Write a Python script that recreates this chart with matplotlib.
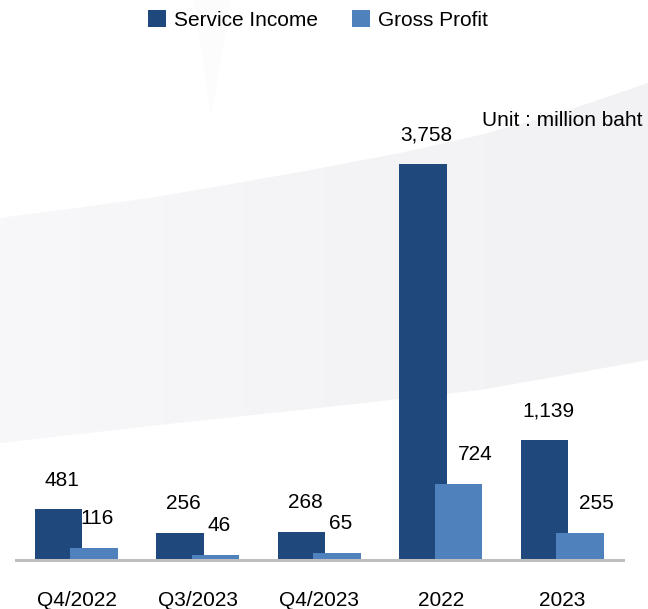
import matplotlib
matplotlib.use('Agg')
import matplotlib.pyplot as plt
from matplotlib.patches import Polygon
from matplotlib.colors import LinearSegmentedColormap
import numpy as np

# ---- data ----
categories = ['Q4/2022', 'Q3/2023', 'Q4/2023', '2022', '2023']
service_income = [481, 256, 268, 3758, 1139]
gross_profit = [116, 46, 65, 724, 255]
series_names = ['Service Income', 'Gross Profit']
unit_text = 'Unit : million baht'

# ---- style ----
plt.rcParams['font.family'] = ['Liberation Sans', 'DejaVu Sans']
DARK = '#1f497d'
LIGHT = '#4f81bd'
FS = 15
W, H = 648, 609

fig = plt.figure(figsize=(W / 100, H / 100), dpi=100)
fig.patch.set_facecolor('white')


def px(x, y):
    return (x / W, 1 - y / H)


# decorative background band with a soft horizontal gradient
bg = fig.add_axes([0, 0, 1, 1], zorder=-1)
bg.set_xlim(0, 1)
bg.set_ylim(0, 1)
bg.axis('off')
upper = [(0, 218), (150, 198), (300, 172), (400, 153), (480, 135),
         (560, 113), (648, 83)]
lower = [(648, 360), (560, 376), (480, 390), (300, 410), (150, 426), (0, 443)]
band = Polygon([px(*p) for p in upper + lower], closed=True,
               transform=bg.transAxes, facecolor='none', edgecolor='none')
bg.add_patch(band)
cmap = LinearSegmentedColormap.from_list('bandc', ['#f8f8fa', '#f4f4f7', '#f2f2f5'])
grad = np.linspace(0, 1, 256).reshape(1, -1)
im = bg.imshow(grad, extent=[0, 1, 0, 1], aspect='auto', cmap=cmap,
               transform=bg.transAxes, interpolation='bilinear')
im.set_clip_path(band)
wedge = Polygon([px(194, 0), px(231, 0), px(211, 117)], closed=True,
                transform=bg.transAxes, facecolor='#fcfcfd', edgecolor='none')
bg.add_patch(wedge)

ax = fig.add_axes([15.75 / W, 49 / H, 607.5 / W, 421.6 / H])
ax.patch.set_alpha(0)
ax.set_xlim(-0.5, 4.5)
ax.set_ylim(0, 4000)

x = np.arange(len(categories))
bw = 0.39
off_d, off_l = -0.148, 0.144
ax.bar(x + off_d, service_income, bw, color=DARK, zorder=2, label=series_names[0])
ax.bar(x + off_l, gross_profit, bw, color=LIGHT, zorder=3, label=series_names[1])

for s in ['top', 'left', 'right']:
    ax.spines[s].set_visible(False)
ax.spines['bottom'].set_color('#bfbfbf')
ax.spines['bottom'].set_linewidth(2.2)
ax.spines['bottom'].set_zorder(4)
ax.set_yticks([])
ax.set_xticks(x, categories)
ax.tick_params(axis='x', length=0, pad=22, labelsize=FS)

gp_shift = [2.5, 2.5, 2.5, 12, 12]
for xi, v in zip(x, service_income):
    ax.annotate(f'{v:,}', (xi + off_d, v), xytext=(2.5, 21),
                textcoords='offset points', ha='center', va='center', fontsize=FS)
for xi, v, dx in zip(x, gross_profit, gp_shift):
    ax.annotate(f'{v:,}', (xi + off_l, v), xytext=(dx, 21),
                textcoords='offset points', ha='center', va='center', fontsize=FS)

fig.text(643 / W, 1 - 120 / H, unit_text, ha='right', va='center', fontsize=FS)

h, l = ax.get_legend_handles_labels()
fig.legend(h, l, loc='center', bbox_to_anchor=(318 / W, 1 - 20 / H), ncol=2,
           frameon=False, fontsize=FS, handlelength=0.87, handleheight=0.87,
           handletextpad=0.4, columnspacing=1.6)

fig.savefig('out.png', dpi=100)
